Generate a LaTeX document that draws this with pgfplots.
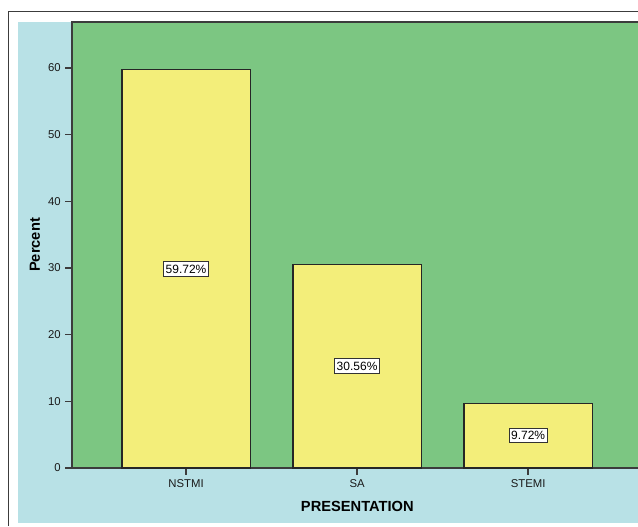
\documentclass[border=0pt]{standalone}
\usepackage{pgfplots}
\pgfplotsset{compat=1.18}
\usepackage{fontspec}
\setmainfont{Liberation Sans}
\definecolor{plotgreen}{RGB}{124,198,130}
\definecolor{baryellow}{RGB}{243,238,122}
\definecolor{bgblue}{RGB}{184,225,230}
\definecolor{framegray}{RGB}{60,60,60}
\begin{document}
\begin{tikzpicture}
\path[use as bounding box, fill=white] (-54pt,-43.5pt) rectangle (424.5pt,351pt);
\draw[framegray, line width=0.8pt] (-47.6pt,-43.5pt) -- (-47.6pt,342.4pt) -- (424.5pt,342.4pt);
\fill[bgblue] (-40.5pt,-40.9pt) rectangle (424.5pt,334.5pt);
\begin{axis}[
  at={(0pt,0pt)}, anchor=south west,
  scale only axis, width=428pt, height=334.5pt,
  xmin=-0.667, xmax=2.670, ymin=0, ymax=66.9,
  axis background/.style={fill=plotgreen},
  axis line style={draw=framegray, line width=1pt},
  tick pos=left, tick align=outside,
  major tick length=5pt,
  tick style={draw=framegray, line width=1pt},
  xtick={0,1,2}, xticklabels={NSTMI,SA,STEMI},
  ytick={0,10,20,30,40,50,60},
  /pgf/number format/assume math mode=true,
  ticklabel style={font=\fontsize{8.5}{9}\selectfont, text=black!90},
  xlabel={PRESENTATION}, ylabel={Percent},
  every axis x label/.style={at={(axis description cs:0.5,-0.0852)}, anchor=center, font=\fontsize{11}{13}\selectfont\bfseries},
  every axis y label/.style={at={(axis description cs:-0.0649,0.5)}, rotate=90, anchor=center, font=\fontsize{11}{13}\selectfont\bfseries},
]
\addplot[ybar, bar width=0.75, fill=baryellow, draw=black!85, line width=0.9pt] coordinates {(0,59.72) (1,30.56) (2,9.72)};
\addplot[draw=none, mark=none, nodes near coords, point meta=explicit symbolic,
  every node near coord/.style={draw=black!80, fill=white, anchor=center, inner xsep=1.5pt, inner ysep=2.2pt, line width=0.7pt, font=\fontsize{9}{10}\selectfont}]
  coordinates {(0,29.86)[59.72\%] (1,15.28)[30.56\%] (2,4.86)[9.72\%]};
\end{axis}
\end{tikzpicture}
\end{document}
